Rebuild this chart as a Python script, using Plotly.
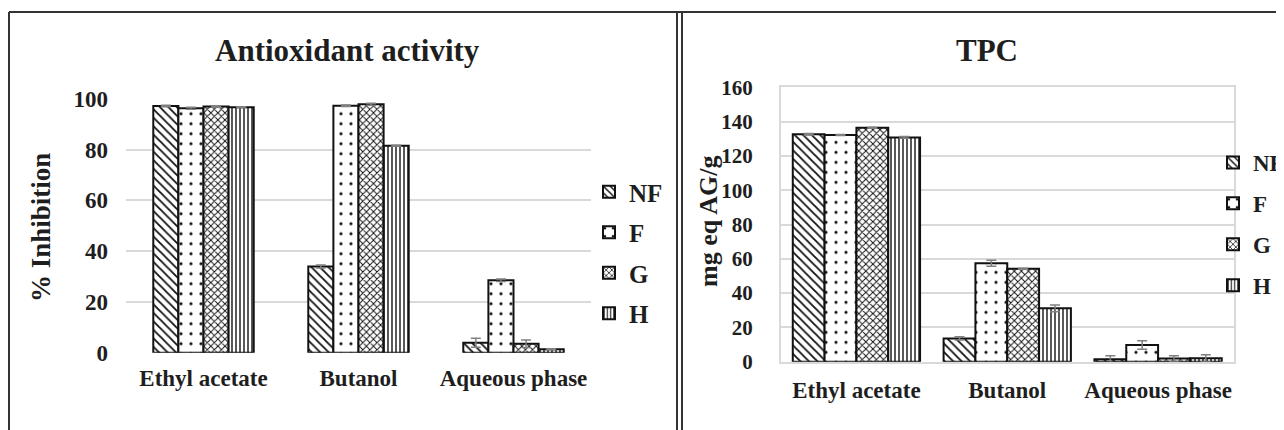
import plotly.graph_objects as go

categories = ["Ethyl acetate", "Butanol", "Aqueous phase"]
series = ["NF", "F", "G", "H"]

# Antioxidant activity (% Inhibition)
aa_NF = [97.1, 33.9, 3.9]
aa_F = [96.2, 97.2, 28.5]
aa_G = [96.9, 97.8, 3.5]
aa_H = [96.6, 81.5, 1.4]
aa_err_NF = [0.3, 0.6, 1.8]
aa_err_F = [0.4, 0.3, 0.5]
aa_err_G = [0.3, 0.4, 1.5]
aa_err_H = [0.2, 0.2, 0.2]

# TPC (mg eq AG/g)
tpc_NF = [132.6, 13.6, 1.4]
tpc_F = [132.2, 57.4, 9.7]
tpc_G = [136.4, 54.2, 1.8]
tpc_H = [130.8, 31.1, 2.0]
tpc_err_NF = [0.4, 1.0, 2.0]
tpc_err_F = [0.3, 1.8, 2.5]
tpc_err_G = [0.3, 0.3, 1.7]
tpc_err_H = [0.5, 2.0, 2.0]

aa_ticks = [0, 20, 40, 60, 80, 100]
tpc_ticks = [0, 20, 40, 60, 80, 100, 120, 140, 160]

W, H = 1284, 430
OFF = 8  # page body margin offset
FONT = "Liberation Serif, Times New Roman, serif"
TXT = "#1e1e1e"

patterns = {
    "NF": dict(shape="\\", size=6, solidity=0.3),
    "F": dict(shape=".", size=10, solidity=0.08),
    "G": dict(shape="x", size=5, solidity=0.35),
    "H": dict(shape="|", size=4, solidity=0.35),
}

fig = go.Figure()

aa_vals = {"NF": aa_NF, "F": aa_F, "G": aa_G, "H": aa_H}
aa_errs = {"NF": aa_err_NF, "F": aa_err_F, "G": aa_err_G, "H": aa_err_H}
tpc_vals = {"NF": tpc_NF, "F": tpc_F, "G": tpc_G, "H": tpc_H}
tpc_errs = {"NF": tpc_err_NF, "F": tpc_err_F, "G": tpc_err_G, "H": tpc_err_H}

wl = 0.162
wr = 0.211
for i, s in enumerate(series):
    pat = dict(fgcolor="#111", bgcolor="white", fillmode="replace", **patterns[s])
    fig.add_trace(go.Bar(
        x=categories, y=aa_vals[s], name=s, xaxis="x", yaxis="y",
        width=wl, offset=-2 * wl + i * wl,
        marker=dict(color="white", pattern=pat, line=dict(color="#111", width=2)),
        error_y=dict(type="data", array=aa_errs[s], color="#808080", thickness=1.5, width=5),
        legend="legend", legendgroup="a" + s,
    ))
for i, s in enumerate(series):
    pat = dict(fgcolor="#111", bgcolor="white", fillmode="replace", **patterns[s])
    fig.add_trace(go.Bar(
        x=categories, y=tpc_vals[s], name=s, xaxis="x2", yaxis="y2",
        width=wr, offset=-2 * wr + i * wr,
        marker=dict(color="white", pattern=pat, line=dict(color="#111", width=2)),
        error_y=dict(type="data", array=tpc_errs[s], color="#808080", thickness=1.5, width=5),
        legend="legend2", legendgroup="t" + s,
    ))

def px_x(p):
    return (p - OFF) / W

def px_y(p):
    return 1 - (p - OFF) / H

cat_font = dict(family=FONT, size=23, color=TXT, weight="bold")

fig.update_layout(
    width=W, height=H,
    margin=dict(l=0, r=0, t=0, b=0, autoexpand=False),
    paper_bgcolor="white", plot_bgcolor="white",
    barmode="overlay",
    showlegend=True,
    font=dict(family=FONT, color=TXT),
    xaxis=dict(domain=[px_x(126), px_x(591)], anchor="y", type="category",
               showgrid=False, showline=False, ticks="", zeroline=False,
               tickfont=cat_font, ticklabelstandoff=9),
    yaxis=dict(domain=[px_y(352.7), px_y(98.7)], anchor="x", range=[0, 100],
               tickvals=aa_ticks, showgrid=True, gridcolor="#d9d9d9", gridwidth=2,
               zeroline=False, showline=False, ticks="",
               tickfont=dict(family=FONT, size=23, color=TXT, weight="bold"),
               ticklabelstandoff=17),
    xaxis2=dict(domain=[px_x(781), px_x(1233.5)], anchor="y2", type="category",
                showgrid=False, showline=True, mirror=True, linecolor="#d9d9d9", linewidth=2,
                ticks="", zeroline=False,
                tickfont=cat_font, ticklabelstandoff=7),
    yaxis2=dict(domain=[px_y(361.7), px_y(87.3)], anchor="x2", range=[0, 160],
                tickvals=tpc_ticks, showgrid=True, gridcolor="#d9d9d9", gridwidth=2,
                showline=True, mirror=True, linecolor="#d9d9d9", linewidth=2,
                zeroline=False, ticks="",
                tickfont=dict(family=FONT, size=21, color=TXT, weight="bold"),
                ticklabelstandoff=22),
    legend=dict(x=px_x(589), y=px_y(169), xanchor="left", yanchor="top",
                font=dict(family=FONT, size=25, color=TXT, weight="bold"),
                traceorder="grouped", tracegroupgap=5, bgcolor="rgba(0,0,0,0)",
                itemwidth=30),
    legend2=dict(x=px_x(1213), y=px_y(141), xanchor="left", yanchor="top",
                 font=dict(family=FONT, size=23, color=TXT, weight="bold"),
                 traceorder="grouped", tracegroupgap=8, bgcolor="rgba(0,0,0,0)",
                 itemwidth=30),
)

annotations = [
    dict(text="<b>Antioxidant activity</b>", x=px_x(347), y=px_y(50), xref="paper", yref="paper",
         xanchor="center", yanchor="middle",
         showarrow=False, font=dict(family=FONT, size=31, color=TXT)),
    dict(text="<b>TPC</b>", x=px_x(987), y=px_y(50), xref="paper", yref="paper",
         xanchor="center", yanchor="middle",
         showarrow=False, font=dict(family=FONT, size=31, color=TXT)),
    dict(text="<b>% Inhibition</b>", x=px_x(41), y=px_y(228), xref="paper", yref="paper",
         xanchor="center", yanchor="middle",
         showarrow=False, textangle=-90, font=dict(family=FONT, size=27, color=TXT)),
    dict(text="<b>mg eq AG/g</b>", x=px_x(708), y=px_y(221), xref="paper", yref="paper",
         xanchor="center", yanchor="middle",
         showarrow=False, textangle=-90, font=dict(family=FONT, size=26, color=TXT)),
]
fig.update_layout(annotations=annotations)

frame = dict(color="#333", width=2)
shapes = [
    dict(type="line", xref="paper", yref="paper", x0=px_x(9), x1=1, y0=px_y(12), y1=px_y(12), line=frame),
    dict(type="line", xref="paper", yref="paper", x0=px_x(9), x1=px_x(9), y0=px_y(12), y1=0, line=frame),
    dict(type="line", xref="paper", yref="paper", x0=px_x(677), x1=px_x(677), y0=px_y(12), y1=0, line=frame),
    dict(type="line", xref="paper", yref="paper", x0=px_x(682), x1=px_x(682), y0=px_y(12), y1=0, line=frame),
]
fig.update_layout(shapes=shapes)

fig.write_html("out.html")
